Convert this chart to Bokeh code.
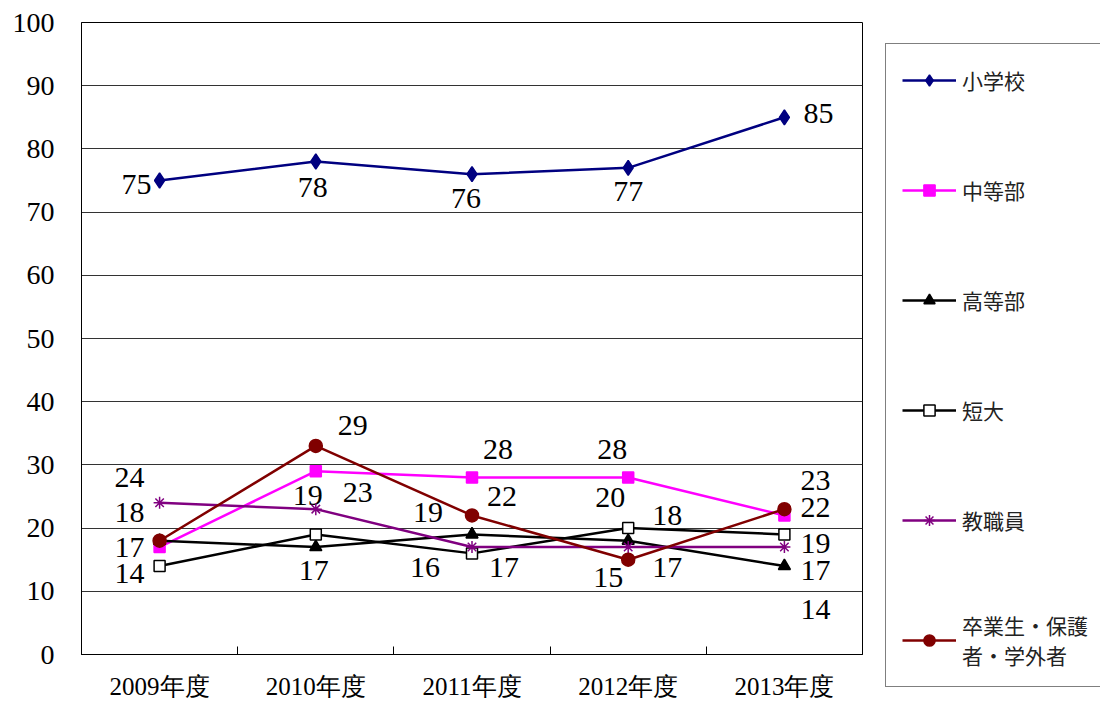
from bokeh.plotting import figure
from bokeh.models import ColumnDataSource, Range1d, FixedTicker, Legend, LegendItem
from bokeh.core.properties import value
from bokeh.embed import file_html
from bokeh.resources import INLINE

# ---- data ----
years = ["2009年度", "2010年度", "2011年度", "2012年度", "2013年度"]
names = ["小学校", "中等部", "高等部", "短大", "教職員", "卒業生・保護\n者・学外者"]
shogakko = [75, 78, 76, 77, 85]
chutobu = [17, 29, 28, 28, 22]
kotobu = [18, 17, 19, 18, 14]
tandai = [14, 19, 16, 20, 19]
kyoshokuin = [24, 23, 17, 17, 17]
sotsugyosei = [18, 33, 22, 15, 23]
y_ticks = [0, 10, 20, 30, 40, 50, 60, 70, 80, 90, 100]

# which data labels are shown in the original
shown = [
    [True, True, True, True, True],
    [True, True, True, True, True],
    [True, True, True, True, True],
    [True, True, True, True, True],
    [True, True, True, True, True],
    [False, False, True, True, True],
]
# label offsets (px, screen) - style only
offsets = [
    [(-23, 4), (-3, 26), (-6, 24), (0, 24), (34, -4)],
    [(-30, 0), (37, -46), (26, -28), (-16, -28), (31, -8)],
    [(-30, -28), (-2, 23), (-44, -22), (39, -25), (31, 43)],
    [(-30, 7), (-8, -39), (-47, 14), (-18, -31), (31, 9)],
    [(-30, -25), (42, -17), (32, 20), (39, 20), (31, 23)],
    [(0, 0), (0, 0), (30, -19), (-20, 18), (31, -29)],
]
styles = [
    dict(color="#000080", marker="diamond", size=15, fill="#000080"),
    dict(color="#FF00FF", marker="square", size=11, fill="#FF00FF"),
    dict(color="#000000", marker="triangle", size=12, fill="#000000"),
    dict(color="#000000", marker="square", size=11, fill="#FFFFFF"),
    dict(color="#800080", marker="asterisk", size=12, fill="#800080"),
    dict(color="#800000", marker="circle", size=13, fill="#800000"),
]
values_all = [shogakko, chutobu, kotobu, tandai, kyoshokuin, sotsugyosei]

SERIF = "Liberation Serif"

xs = [i + 0.5 for i in range(len(years))]

p = figure(frame_width=781, frame_height=632,
           x_range=Range1d(0, len(years)), y_range=Range1d(0, 100),
           output_backend="svg", toolbar_location=None,
           min_border_left=81, min_border_top=22, min_border_bottom=46,
           min_border_right=0)
p.background_fill_color = "white"
p.border_fill_color = "white"
p.outline_line_color = "black"
p.outline_line_width = 1

# axes
p.xaxis.ticker = FixedTicker(ticks=xs, minor_ticks=list(range(len(years) + 1)))
p.xaxis.major_label_overrides = {x: y for x, y in zip(xs, years)}
p.xaxis.major_tick_in = 0
p.xaxis.major_tick_out = 0
p.xaxis.minor_tick_in = 8
p.xaxis.minor_tick_out = 0
p.xaxis.minor_tick_line_color = "black"
p.xaxis.axis_line_color = "black"
p.xaxis.major_label_text_font = SERIF
p.xaxis.major_label_text_font_size = "25px"
p.xaxis.major_label_text_color = "black"
p.xaxis.major_label_standoff = 18

p.yaxis.ticker = FixedTicker(ticks=y_ticks)
p.yaxis.major_tick_in = 0
p.yaxis.major_tick_out = 0
p.yaxis.minor_tick_line_color = None
p.yaxis.axis_line_color = "black"
p.yaxis.major_label_text_font = SERIF
p.yaxis.major_label_text_font_size = "28px"
p.yaxis.major_label_text_color = "black"
p.yaxis.major_label_standoff = 27

p.xgrid.grid_line_color = None
p.ygrid.grid_line_color = "#333333"
p.ygrid.grid_line_width = 1

items = []
for name, vals, st, sh, off in zip(names, values_all, styles, shown, offsets):
    src = ColumnDataSource(dict(
        x=xs, y=vals,
        label=[str(v) if s else "" for v, s in zip(vals, sh)],
        dx=[o[0] for o in off], dy=[o[1] for o in off],
    ))
    r_line = p.line("x", "y", source=src, line_color=st["color"], line_width=2.5)
    r_pts = p.scatter("x", "y", source=src, marker=st["marker"], size=st["size"],
                      fill_color=st["fill"], line_color=st["color"], line_width=1.5)
    p.text("x", "y", text="label", source=src, x_offset="dx", y_offset="dy",
           text_font=value(SERIF), text_font_size="30px",
           text_color="black", text_align="center", text_baseline="middle")
    items.append(LegendItem(label=name, renderers=[r_line, r_pts]))

legend = Legend(items=items, location=(23, -33),
                glyph_width=54, glyph_height=28, label_height=40,
                label_standoff=6, spacing=70, padding=16, margin=0,
                label_text_font="Noto Sans CJK JP", label_text_font_size="21px",
                label_text_color="#222222",
                border_line_color="black", border_line_width=1,
                background_fill_color="white", background_fill_alpha=1.0)
p.add_layout(legend, "right")

open("out.html", "w").write(file_html(p, INLINE))
